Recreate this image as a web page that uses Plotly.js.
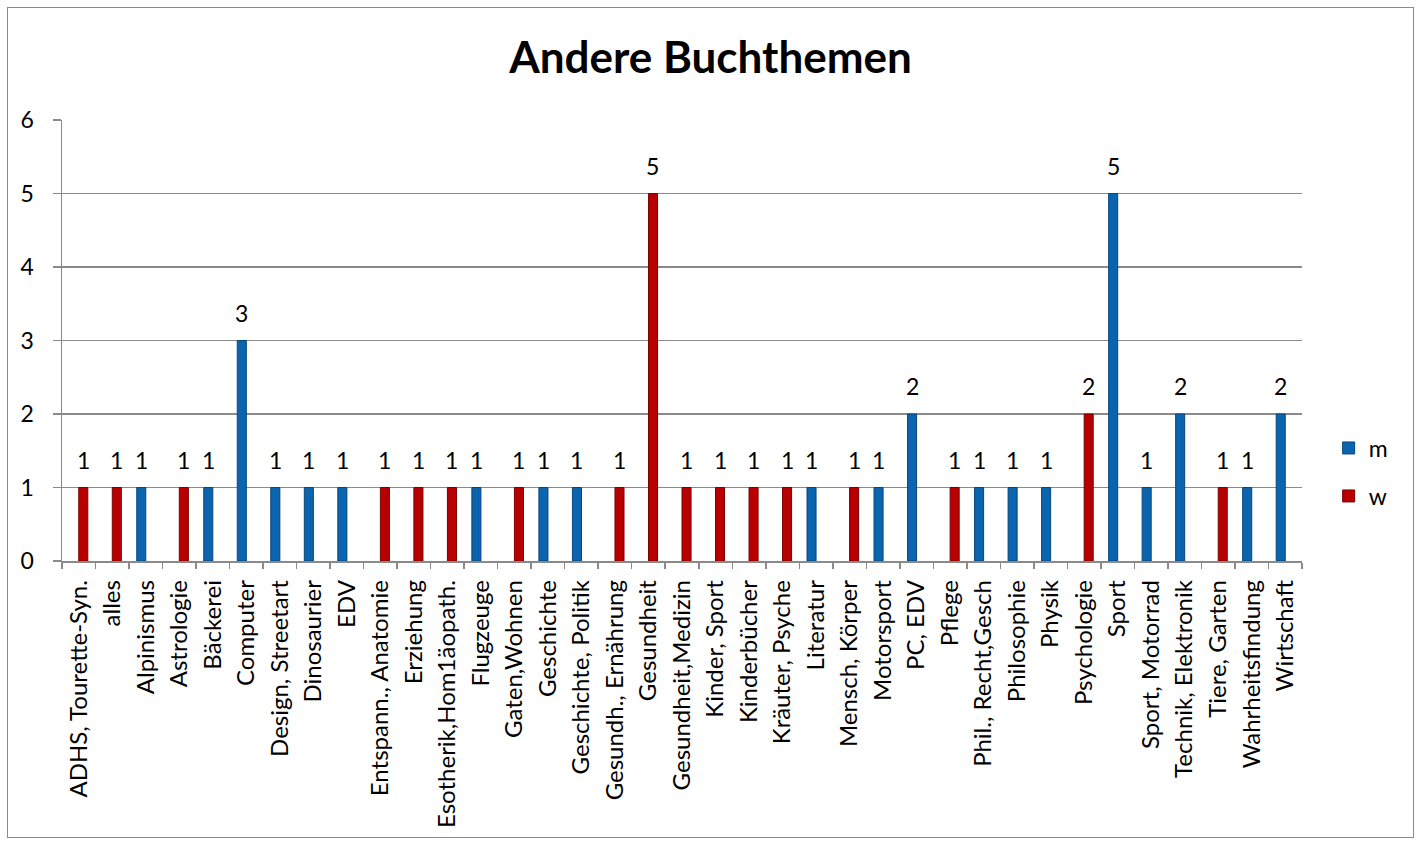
<!DOCTYPE html>
<html>
<head>
<meta charset="utf-8">
<script src="https://cdn.plot.ly/plotly-3.0.1.min.js"></script>
<style>
  html, body { margin: 0; padding: 0; background: #fff; }
  #wrap { position: relative; width: 1421px; height: 845px; }
  #chart { position: absolute; left: 0; top: 0; width: 1421px; height: 845px; }
  #frame { position: absolute; left: 7px; top: 7px; width: 1405px; height: 829px; border: 1.5px solid #8a8a8a; pointer-events: none; }
</style>
</head>
<body>
<div id="wrap">
  <div id="chart"></div>
  <div id="frame"></div>
</div>
<script>
const categories = [
  "ADHS, Tourette-Syn.", "alles", "Alpinismus", "Astrologie", "Bäckerei", "Computer",
  "Design, Streetart", "Dinosaurier", "EDV", "Entspann., Anatomie", "Erziehung",
  "Esotherik,Hom1äopath.", "Flugzeuge", "Gaten,Wohnen", "Geschichte", "Geschichte, Politik",
  "Gesundh., Ernährung", "Gesundheit", "Gesundheit,Medizin", "Kinder, Sport", "Kinderbücher",
  "Kräuter, Psyche", "Literatur", "Mensch, Körper", "Motorsport", "PC, EDV", "Pflege",
  "Phil., Recht,Gesch", "Philosophie", "Physik", "Psychologie", "Sport", "Sport, Motorrad",
  "Technik, Elektronik", "Tiere, Garten", "Wahrheitsfindung", "Wirtschaft"
];
const mValues = [
  null, null, 1, null, 1, 3,
  1, 1, 1, null, null,
  null, 1, null, 1, 1,
  null, null, null, null, null,
  null, 1, null, 1, 2, null,
  1, 1, 1, null, 5, 1,
  2, null, 1, 2
];
const wValues = [
  1, 1, null, 1, null, null,
  null, null, null, 1, 1,
  1, null, 1, null, null,
  1, 5, 1, 1, 1,
  1, null, 1, null, null, 1,
  null, null, null, 2, null, null,
  null, 1, null, null
];
const seriesNames = ["m", "w"];
const yTicks = [0, 1, 2, 3, 4, 5, 6];

const FONT = "Lato, 'Open Sans', sans-serif";
const blue = "#0A64AE", red = "#B80000";

const traces = [
  { type: "bar", name: seriesNames[0], x: categories, y: mValues,
    marker: { color: blue, line: { color: "#06467e", width: 1 } }, legend: "legend", hoverinfo: "x+y" },
  { type: "bar", name: seriesNames[1], x: categories, y: wValues,
    marker: { color: red, line: { color: "#7d0000", width: 1 } }, legend: "legend2", hoverinfo: "x+y" }
];

const annotations = [];
[[mValues, -4.5], [wValues, 4.5]].forEach(([vals, shift]) => {
  vals.forEach((v, i) => {
    if (v === null) return;
    annotations.push({
      x: categories[i], y: v, xref: "x", yref: "y",
      text: String(v), showarrow: false,
      xshift: shift, yshift: 28, yanchor: "middle", xanchor: "center",
      font: { family: FONT, size: 23, color: "#000" }
    });
  });
});

const layout = {
  width: 1421, height: 845,
  margin: { l: 62, r: 119, t: 120, b: 284 },
  paper_bgcolor: "#fff", plot_bgcolor: "#fff",
  font: { family: FONT, size: 23, color: "#000" },
  title: { text: "<b>Andere Buchthemen</b>", x: 0.5, xref: "container", y: 1 - 58 / 845, yref: "container",
           yanchor: "middle", xanchor: "center", font: { family: FONT, size: 44, color: "#000" } },
  barmode: "group", bargap: 0.46, bargroupgap: 0,
  xaxis: {
    type: "category", categoryorder: "array", categoryarray: categories,
    tickangle: -90, ticks: "outside", tickson: "boundaries", ticklen: 6, tickcolor: "#8a8a8a", tickwidth: 1.5,
    showline: true, linecolor: "#8a8a8a", linewidth: 1.5, showgrid: false,
    tickfont: { family: FONT, size: 24, color: "#000" }, ticklabelstandoff: 8,
    fixedrange: true
  },
  yaxis: {
    range: [0, 6], tickvals: yTicks, ticktext: yTicks.map(String),
    ticks: "outside", ticklen: 8, tickcolor: "#8a8a8a", tickwidth: 1.5,
    showline: true, linecolor: "#8a8a8a", linewidth: 1.5,
    showgrid: true, gridcolor: "#8a8a8a", gridwidth: 1.5, zeroline: false,
    tickfont: { family: FONT, size: 23, color: "#000" }, ticklabelstandoff: 14,
    fixedrange: true
  },
  showlegend: true,
  legend: { x: 1.0215, y: (561 - 448) / 441, xanchor: "left", yanchor: "middle",
            font: { family: FONT, size: 23, color: "#000" }, bgcolor: "rgba(0,0,0,0)", itemwidth: 30 },
  legend2: { x: 1.0215, y: (561 - 496) / 441, xanchor: "left", yanchor: "middle",
            font: { family: FONT, size: 23, color: "#000" }, bgcolor: "rgba(0,0,0,0)", itemwidth: 30 },
  annotations: annotations
};

Plotly.newPlot("chart", traces, layout, { displayModeBar: false, staticPlot: true });
</script>
</body>
</html>
